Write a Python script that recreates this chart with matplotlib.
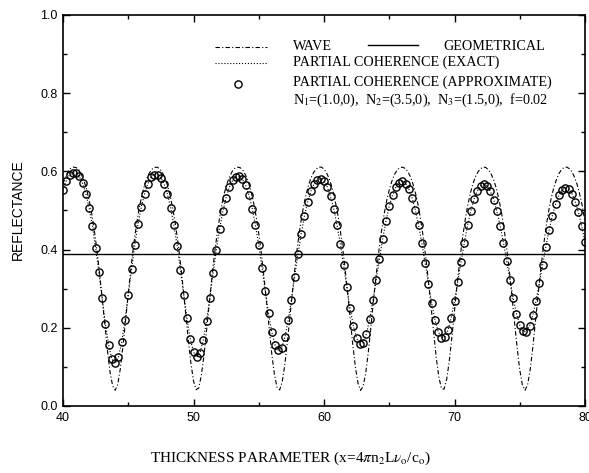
import numpy as np
import matplotlib
matplotlib.use("Agg")
import matplotlib.pyplot as plt
from matplotlib.lines import Line2D

plt.rcParams['mathtext.fontset'] = 'stix'

# Thickness parameter grids
wave_x = np.round(np.arange(40, 80.0001, 0.2), 2)
partial_x = np.round(np.arange(40, 80.0001, 0.25), 2)

# Coherent (wave) reflectance
wave_r = [
    0.568, 0.587, 0.600, 0.608, 0.611, 0.610, 0.604, 0.593, 0.577, 0.555,
    0.527, 0.492, 0.449, 0.399, 0.341, 0.276, 0.209, 0.144, 0.088, 0.052,
    0.040, 0.056, 0.097, 0.155, 0.221, 0.288, 0.352, 0.408, 0.457, 0.498,
    0.532, 0.559, 0.580, 0.595, 0.605, 0.610, 0.611, 0.607, 0.598, 0.584,
    0.565, 0.539, 0.507, 0.468, 0.421, 0.366, 0.304, 0.237, 0.170, 0.110,
    0.064, 0.042, 0.046, 0.078, 0.129, 0.193, 0.260, 0.326, 0.386, 0.438,
    0.482, 0.519, 0.549, 0.572, 0.589, 0.602, 0.609, 0.611, 0.609, 0.602,
    0.590, 0.573, 0.551, 0.521, 0.485, 0.441, 0.390,
    0.330, 0.265, 0.198, 0.133, 0.081, 0.048, 0.041, 0.062, 0.106, 0.166,
    0.232, 0.299, 0.362, 0.417, 0.465, 0.505, 0.537, 0.563, 0.583, 0.597,
    0.606, 0.611, 0.611, 0.606, 0.596, 0.581, 0.561, 0.534, 0.501, 0.461,
    0.412, 0.356, 0.293, 0.226, 0.159, 0.101, 0.059, 0.040, 0.050, 0.085,
    0.139, 0.204, 0.272, 0.336, 0.395, 0.446, 0.489, 0.525, 0.553, 0.575,
    0.592, 0.603, 0.609, 0.611, 0.608, 0.601, 0.588, 0.570, 0.546, 0.516,
    0.478, 0.433, 0.380, 0.320, 0.254, 0.186, 0.124, 0.074, 0.045, 0.043,
    0.068, 0.115, 0.176, 0.244, 0.310, 0.372, 0.426, 0.472, 0.511, 0.542,
    0.567, 0.586, 0.599, 0.607, 0.611, 0.610, 0.604, 0.594, 0.578, 0.557,
    0.529, 0.495, 0.453, 0.403, 0.346, 0.282, 0.214, 0.149, 0.092, 0.054,
    0.040, 0.054, 0.093, 0.150, 0.216, 0.283, 0.347, 0.404, 0.454, 0.496,
    0.530, 0.557, 0.578, 0.594, 0.605, 0.610, 0.611, 0.607, 0.599, 0.585,
    0.566, 0.541, 0.510, 0.471,
]

# Partial coherence reflectance (exact and approximate coincide at this scale)
partial_exact_r = [
    0.553, 0.576, 0.591, 0.597, 0.596, 0.587, 0.570, 0.543, 0.507, 0.461,
    0.405, 0.342, 0.275, 0.210, 0.156, 0.120, 0.109, 0.125, 0.164, 0.220,
    0.284, 0.350, 0.412, 0.465, 0.509, 0.543, 0.568, 0.585, 0.592, 0.592,
    0.584, 0.567, 0.542, 0.507, 0.462, 0.409, 0.348, 0.285, 0.224, 0.172,
    0.138, 0.125, 0.136, 0.169, 0.218, 0.277, 0.340, 0.399, 0.453, 0.498,
    0.533, 0.560, 0.577, 0.586, 0.587, 0.580, 0.564, 0.539, 0.505, 0.462,
    0.411, 0.354, 0.294, 0.237, 0.189, 0.156, 0.142, 0.149, 0.176, 0.219,
    0.272, 0.331, 0.388, 0.440, 0.486, 0.522, 0.550, 0.569, 0.579, 0.581,
    0.575, 0.560, 0.536, 0.504, 0.462, 0.414, 0.360, 0.304, 0.250, 0.205,
    0.173, 0.158, 0.162, 0.184, 0.222, 0.270, 0.323, 0.377, 0.428, 0.473,
    0.511, 0.540, 0.560, 0.571, 0.575, 0.569, 0.555, 0.532, 0.501, 0.462,
    0.416, 0.365, 0.313, 0.263, 0.221, 0.190, 0.175, 0.176, 0.194, 0.226,
    0.269, 0.318, 0.368, 0.417, 0.462, 0.499, 0.529, 0.550, 0.563, 0.567,
    0.562, 0.549, 0.528, 0.498, 0.461, 0.418, 0.370, 0.322, 0.275, 0.236,
    0.207, 0.191, 0.190, 0.204, 0.232, 0.269, 0.314, 0.361, 0.407, 0.450,
    0.487, 0.517, 0.539, 0.553, 0.558, 0.555, 0.543, 0.523, 0.495, 0.460,
    0.419,
]
partial_approx_r = list(partial_exact_r)

# Incoherent (geometrical) reflectance
geometrical_r = 0.389

x_ticks = [40, 50, 60, 70, 80]
y_ticks = [0.0, 0.2, 0.4, 0.6, 0.8, 1.0]
y_tick_labels = ['0.0', '0.2', '0.4', '0.6', '0.8', '1.0']

W, H = 589, 473
fig = plt.figure(figsize=(W / 100, H / 100), dpi=100)
ax = fig.add_axes([63 / W, 1 - 406 / H, (585 - 63) / W, (406 - 15) / H])

dashdot = (0, (4, 2, 1, 2))
ax.plot(wave_x, wave_r, color='k', lw=0.8, ls=dashdot)
ax.plot(partial_x, partial_exact_r, color='k', lw=0.8, ls=':')
ax.plot(partial_x, partial_approx_r, 'o', color='k', mfc='none', ms=5.2, mew=1.0)
ax.axhline(geometrical_r, color='k', lw=1.0)

ax.set_xlim(40, 80)
ax.set_ylim(0, 1)
ax.set_xticks(x_ticks)
ax.set_xticks([45, 55, 65, 75], minor=True)
ax.set_yticks(y_ticks)
ax.set_yticks([0.1, 0.3, 0.5, 0.7, 0.9], minor=True)
ax.set_yticklabels(y_tick_labels)
ax.tick_params(which='both', direction='in', top=True, right=True, width=1.0,
               labelsize=9, labelfontfamily='Liberation Sans')
ax.tick_params(which='major', length=5, pad=4)
ax.tick_params(which='minor', length=3)
for sp in ax.spines.values():
    sp.set_linewidth(1.2)

serif = 'Liberation Serif'
fig.text(18 / W, 1 - 210 / H, 'REFLECTANCE', rotation=90, ha='center', va='center',
         family='Liberation Sans', fontsize=10)
fig.text(290 / W, 1 - 458 / H,
         r'THICKNESS PARAMETER (x=4$\pi$n$_2$L$\nu_{\rm o}$/c$_{\rm o}$)',
         ha='center', va='center', family=serif, fontsize=11)


def fx(px):
    return px / W


def fy(py):
    return 1 - py / H


# Key, drawn inside the plotting area
fig.add_artist(Line2D([fx(215), fx(267)], [fy(47), fy(47)], color='k', lw=0.8, ls=dashdot))
fig.add_artist(Line2D([fx(368), fx(418)], [fy(45), fy(45)], color='k', lw=1.0))
fig.add_artist(Line2D([fx(215), fx(267)], [fy(63), fy(63)], color='k', lw=0.8, ls=':'))
fig.add_artist(Line2D([fx(238)], [fy(84)], marker='o', color='k', mfc='none', ms=5.2, mew=1.0))
fs = 10.2
fig.text(fx(293), fy(46), 'WAVE', va='center', family=serif, fontsize=fs)
fig.text(fx(443), fy(46), 'GEOMETRICAL', va='center', family=serif, fontsize=fs)
fig.text(fx(293), fy(62), 'PARTIAL COHERENCE (EXACT)', va='center', family=serif, fontsize=fs)
fig.text(fx(293), fy(82), 'PARTIAL COHERENCE (APPROXIMATE)', va='center', family=serif, fontsize=fs)
fig.text(fx(293), fy(100), r'N$_1$=(1.0,0),  N$_2$=(3.5,0),  N$_3$=(1.5,0),  f=0.02',
         va='center', family=serif, fontsize=fs)

fig.savefig("out.png")
